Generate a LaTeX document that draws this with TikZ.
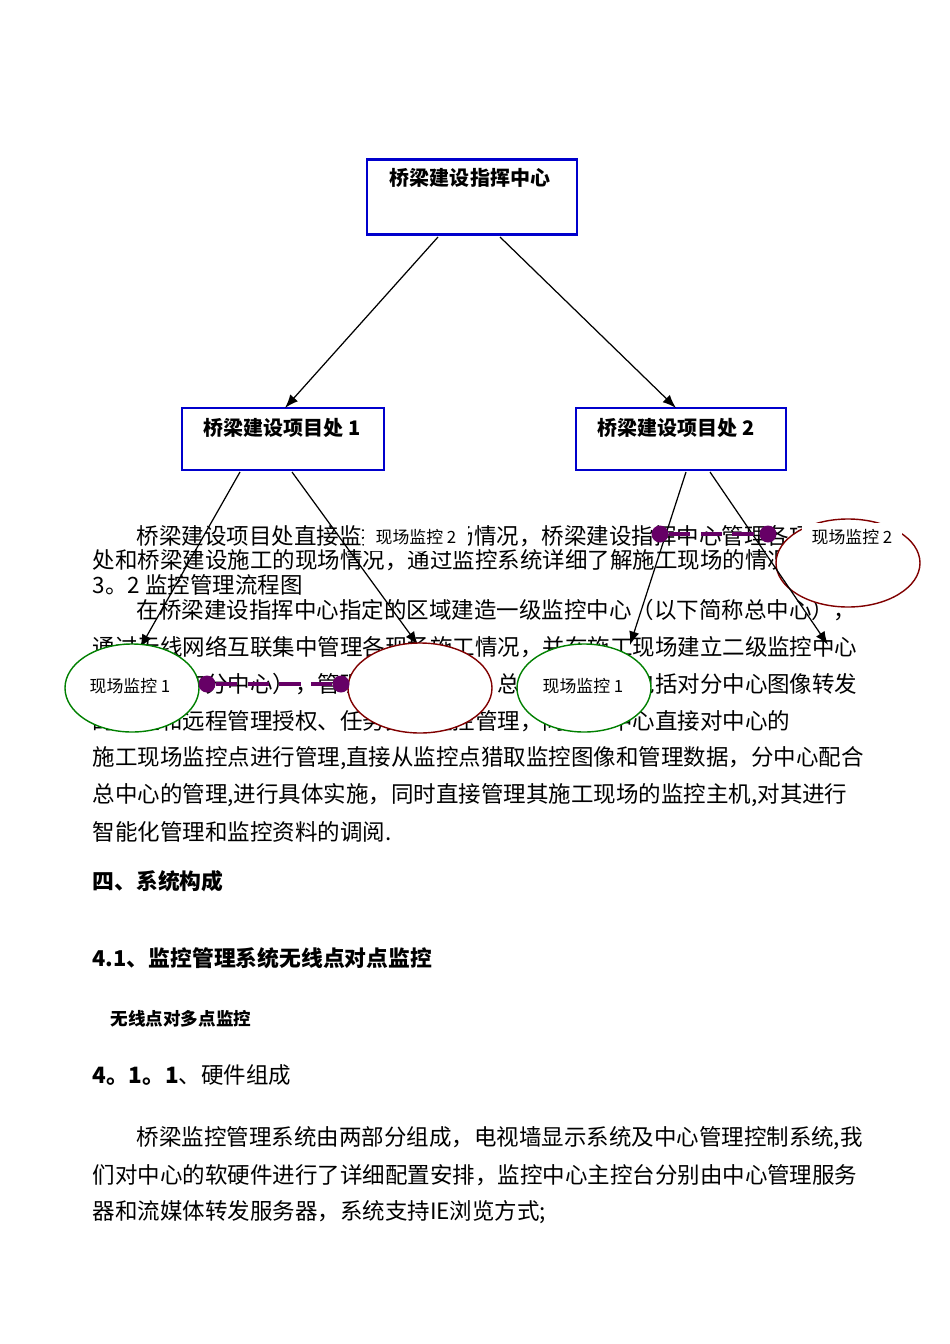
\documentclass[tikz,border=0pt]{standalone}
\usepackage{fontspec}
\setmainfont{Liberation Serif}
\newfontfamily\cjk{Noto Sans CJK SC}
\begin{document}
\begin{tikzpicture}[x=0.1mm,y=-0.1mm,
 body/.style={anchor=west,inner sep=0pt,font=\cjk\fontsize{6.4pt}{7pt}\selectfont},
 boxn/.style={draw=blue!80!black,line width=0.6pt,fill=white,inner sep=0pt},
 boxt/.style={font=\cjk\bfseries\fontsize{5.7pt}{6pt}\selectfont},
 lab/.style={font=\cjk\fontsize{4.8pt}{5pt}\selectfont,inner sep=1pt},
 arr/.style={-latex,line width=0.35pt},
 gell/.style={draw=green!50!black,fill=white,line width=0.4pt},
 rell/.style={draw=red!50!black,fill=white,line width=0.4pt},
 dumb/.style={draw=violet!80!black,line width=1.4pt,dash pattern=on 6pt off 3pt},
 dot/.style={circle,fill=violet!80!black,minimum size=1.7mm,inner sep=0pt}]
\useasboundingbox (0,0) rectangle (950,1344);
% body text
\node[body] (t1) at (136,536) {桥梁建设项目处直接监控施工现场情况，桥梁建设指挥中心管理各项目};
\node[body] (t2) at (92,560) {处和桥梁建设施工的现场情况，通过监控系统详细了解施工现场的情况。};
\node[body] (t3) at (92,585) {3。2 监控管理流程图};
\node[body] (t4) at (136,610) {在桥梁建设指挥中心指定的区域建造一级监控中心（以下简称总中心），};
\node[body] (t5) at (92,647) {通过无线网络互联集中管理各现场施工情况，并在施工现场建立二级监控中心};
\node[body] (t6) at (92,684) {（以下简称分中心），管理本施工现场，总中心的功能包括对分中心图像转发};
\node[body] (t7) at (92,721) {的管理和远程管理授权、任务分级监控管理，同时总中心直接对中心的};
\node[body] (t8) at (92,758) {施工现场监控点进行管理,直接从监控点猎取监控图像和管理数据，分中心配合};
\node[body] (t9) at (92,795) {总中心的管理,进行具体实施，同时直接管理其施工现场的监控主机,对其进行};
\node[body] (t10) at (92,832) {智能化管理和监控资料的调阅.};
\node[body,font=\cjk\bfseries\fontsize{6.2pt}{7pt}\selectfont] (h1) at (92,881) {四、系统构成};
\node[body,font=\cjk\bfseries\fontsize{6.2pt}{7pt}\selectfont] (h2) at (92,958) {4.1、监控管理系统无线点对点监控};
\node[body,font=\cjk\bfseries\fontsize{5pt}{6pt}\selectfont] (h3) at (110,1019) {无线点对多点监控};
\node[body] (h4) at (92,1075) {\textbf{4。1。1}、硬件组成};
\node[body] (p1) at (136,1138) {桥梁监控管理系统由两部分组成，电视墙显示系统及中心管理控制系统,我};
\node[body] (p2) at (92,1175) {们对中心的软硬件进行了详细配置安排，监控中心主控台分别由中心管理服务};
\node[body] (p3) at (92,1212) {器和流媒体转发服务器，系统支持IE浏览方式;};
% boxes
\node[boxn,minimum width=21mm,minimum height=7.5mm] (top) at (472,197) {};
\node[boxt] (topt) at (470,178) {桥梁建设指挥中心};
\node[boxn,minimum width=20.2mm,minimum height=6.2mm] (b1) at (283,439) {};
\node[boxt] (b1t) at (282,428) {桥梁建设项目处 1};
\node[boxn,minimum width=21mm,minimum height=6.2mm] (b2) at (681,439) {};
\node[boxt] (b2t) at (676,428) {桥梁建设项目处 2};
\coordinate (s1) at (438,237); \coordinate (s2) at (500,237);
\coordinate (e1) at (285,408); \coordinate (e2) at (676,408);
\draw[arr] (s1) -- (e1);
\draw[arr] (s2) -- (e2);
% site nodes
\node[lab,fill=white,inner xsep=1.2mm,inner ysep=0.6mm] (m2a) at (416,537) {现场监控 2};
\draw[rell] (848,563) ellipse [x radius=72,y radius=44];
\node[lab,fill=white,inner xsep=1mm,inner ysep=0.6mm] (m2b) at (852,537) {现场监控 2};
\coordinate (a1) at (240,472); \coordinate (a1e) at (140,648);
\coordinate (a2) at (292,472); \coordinate (a2e) at (418,645);
\coordinate (a3) at (686,472); \coordinate (a3e) at (630,645);
\coordinate (a4) at (710,472); \coordinate (a4e) at (828,645);
\draw[arr] (a1) -- (a1e);
\draw[arr] (a2) -- (a2e);
\draw[arr] (a3) -- (a3e);
\draw[arr] (a4) -- (a4e);
\draw[gell] (132,688) ellipse [x radius=67,y radius=44];
\draw[rell] (420,688) ellipse [x radius=72,y radius=45];
\draw[gell] (584,688) ellipse [x radius=67,y radius=44];
\node[lab] (m1a) at (130,686) {现场监控 1};
\node[lab] (m1b) at (583,686) {现场监控 1};
% purple dumbbells
\node[dot] (d1) at (207,684) {}; \node[dot] (d2) at (341,684) {};
\draw[dumb] (d1) -- (d2);
\node[dot] (d3) at (660,534) {}; \node[dot] (d4) at (768,534) {};
\draw[dumb] (d3) -- (d4);
\end{tikzpicture}
\end{document}
